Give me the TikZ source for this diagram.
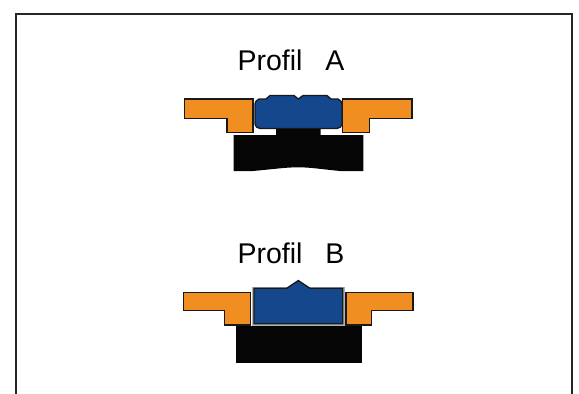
\documentclass[tikz,border=0pt]{standalone}
\usepackage{fontspec}
\setmainfont{Liberation Sans}
\definecolor{sealblue}{RGB}{21,71,140}
\definecolor{flange}{RGB}{241,142,33}
\definecolor{core}{RGB}{5,5,5}
\tikzset{
  frameline/.style={draw=black!85,line width=1.3pt},
  flangepart/.style={fill=flange,draw=black!90,line width=1.3pt,line join=miter},
  sealpart/.style={fill=sealblue,draw=black!90,line width=1.3pt,line join=round},
  corepart/.style={fill=core,draw=none},
  titletext/.style={font=\fontsize{28.5}{32}\selectfont,inner sep=0pt,text=black,anchor=base west}
}
\begin{document}
\begin{tikzpicture}[x=1pt,y=-1pt]
\useasboundingbox (0,0) rectangle (579,394);
\draw[frameline] (16,394) -- (16,14) -- (572,14) -- (572,394);
\node[titletext] (profilA) at (237.3,70) {Profil\hspace{23pt}A};
\node[titletext] (profilB) at (237.3,263) {Profil\hspace{23pt}B};
% Profile A
\fill[corepart] (233.5,135) -- (276,135) -- (276,127) -- (320.5,127) -- (320.5,135) -- (363.3,135) -- (363.3,171) -- (340,171) .. controls (320,169) and (310,167.3) .. (298,167.3) .. controls (286,167.3) and (275,169) .. (253,171) -- (233.5,171) -- cycle;
\draw[flangepart] (184.5,99) -- (253,99) -- (253,132.7) -- (227,132.7) -- (227,118.3) -- (184.5,118.3) -- cycle;
\draw[flangepart] (412,99) -- (342.5,99) -- (342.5,132.7) -- (369.5,132.7) -- (369.5,118.3) -- (412,118.3) -- cycle;
\draw[sealpart] (259,99) -- (266,99) -- (270,95.5) -- (294,95.5) -- (298.3,99) -- (303,95.5) -- (327,95.5) -- (331,99) -- (338,99) .. controls (340.5,100) and (342,102) .. (342,104) -- (342,124) .. controls (342,126) and (340,128.5) .. (337,128.5) -- (260,128.5) .. controls (257,128.5) and (255,126) .. (255,124) -- (255,104) .. controls (255,102) and (256.5,100) .. (259,99) -- cycle;
% Profile B
\fill[corepart] (235.5,325.5) -- (362,325.5) -- (362,363) -- (235.5,363) -- cycle;
\draw[flangepart] (183.5,292.8) -- (250.5,292.8) -- (250.5,325) -- (224.5,325) -- (224.5,310.8) -- (183.5,310.8) -- cycle;
\draw[flangepart] (413,292.8) -- (346,292.8) -- (346,325) -- (371.5,325) -- (371.5,310.8) -- (413,310.8) -- cycle;
\draw[white!70!black,line width=2.6pt,fill=white] (253,288) -- (343.5,288) -- (343.5,324.5) -- (253,324.5) -- cycle;
\draw[sealpart,line join=miter] (254,288.3) -- (286.7,288.3) -- (298.3,280.5) -- (310,288.3) -- (342.7,288.3) -- (342.7,323.7) -- (254,323.7) -- cycle;
\end{tikzpicture}
\end{document}
